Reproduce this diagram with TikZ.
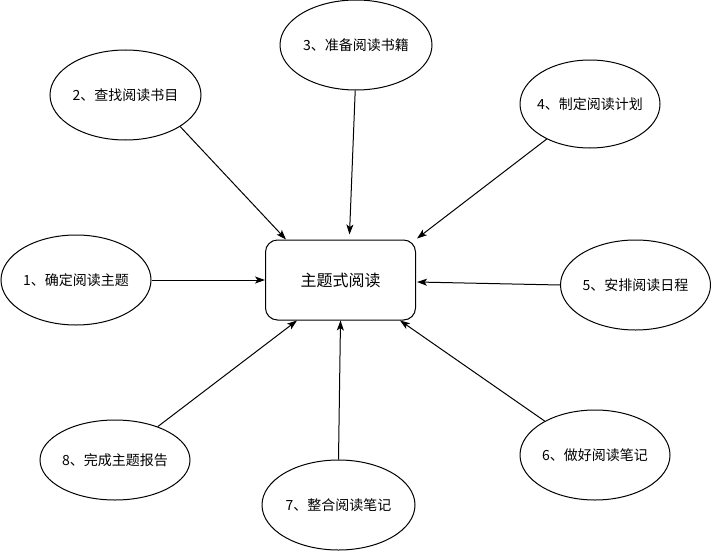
\documentclass[tikz,border=0pt]{standalone}
\usepackage{fontspec}
\setmainfont{Noto Sans CJK SC}
\usetikzlibrary{shapes.geometric,arrows.meta,calc}
\tikzset{
  bubble/.style={draw, ellipse, line width=1pt, inner sep=0pt,
    font=\fontsize{14pt}{16pt}\selectfont},
  hub/.style={draw, rectangle, rounded corners=12pt, line width=1pt, inner sep=0pt,
    minimum width=150pt, minimum height=80pt, font=\fontsize{16pt}{19pt}\selectfont},
  link/.style={line width=1pt, -{Stealth[length=10pt,width=7pt,inset=2.5pt]}}
}
\newcommand{\zb}[1]{\makebox[0pt]{#1}}
\begin{document}
\begin{tikzpicture}[x=1pt,y=-1pt]
\useasboundingbox (0,0) rectangle (711,551);
\node[hub] (r) at (340.5,280) {\zb{主题式阅读}};
\node[bubble, minimum width=150pt, minimum height=90pt] (e1) at (76,280) {\zb{1、确定阅读主题}};
\node[bubble, minimum width=151pt, minimum height=90pt] (e2) at (125.5,95) {\zb{2、查找阅读书目}};
\node[bubble, minimum width=152pt, minimum height=90pt] (e3) at (356,45) {\zb{3、准备阅读书籍}};
\node[bubble, minimum width=140pt, minimum height=88pt] (e4) at (590,104) {\zb{4、制定阅读计划}};
\node[bubble, minimum width=150pt, minimum height=90pt] (e5) at (635.5,285) {\zb{5、安排阅读日程}};
\node[bubble, minimum width=150pt, minimum height=90pt] (e6) at (595,455) {\zb{6、做好阅读笔记}};
\node[bubble, minimum width=153pt, minimum height=90pt] (e7) at (338.5,505) {\zb{7、整合阅读笔记}};
\node[bubble, minimum width=150pt, minimum height=80pt] (e8) at (115,460) {\zb{8、完成主题报告}};
\draw[link] (e1.east) -- (r.west);
\draw[link] (e2.-30) -- ($(r.north west)+(21,0)$);
\draw[link] (e3.-91) -- ($(r.north)+(9,-5)$);
\draw[link] (e4.219) -- ($(r.north east)+(1,-1)$);
\draw[link] (e5.west) -- ($(r.east)+(1,2)$);
\draw[link] (e6.146) -- ($(r.south east)+(-16,0)$);
\draw[link] (e7.north) -- (r.south);
\draw[link] (e8.38) -- ($(r.south west)+(32,0)$);
\end{tikzpicture}
\end{document}
